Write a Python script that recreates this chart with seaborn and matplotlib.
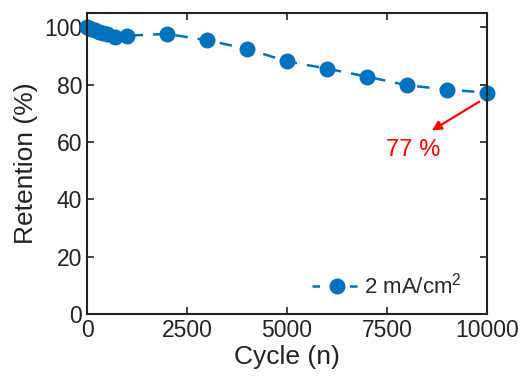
import matplotlib
matplotlib.use("Agg")
import matplotlib.pyplot as plt
import seaborn as sns
import pandas as pd

cycles = [0, 50, 100, 200, 300, 400, 500, 700, 1000, 2000, 3000, 4000, 5000, 6000, 7000, 8000, 9000, 10000]
retention = [100, 99.8, 99.5, 99.0, 98.5, 98.0, 97.5, 96.8, 97.1, 97.7, 95.5, 92.5, 88.1, 85.6, 82.8, 79.8, 78.3, 77.2]
series_label = "2 mA/cm$^2$"
xticks = [0, 2500, 5000, 7500, 10000]
yticks = [0, 20, 40, 60, 80, 100]

df = pd.DataFrame({"Cycle": cycles, "Retention": retention})

sns.set_theme(style="ticks")
plt.rcParams["font.family"] = ["Liberation Sans", "DejaVu Sans"]
plt.rcParams["mathtext.fontset"] = "custom"
plt.rcParams["mathtext.rm"] = "Liberation Sans"

fig = plt.figure(figsize=(5.24, 3.88), dpi=100)
ax = fig.add_axes([87/524, 1-314/388, 400/524, 301/388])

blue = "#0072BD"
sns.lineplot(data=df, x="Cycle", y="Retention", ax=ax, color=blue, linestyle="--",
             linewidth=1.8, marker="o", markersize=11.5, markeredgewidth=0,
             label=series_label, dashes=False)
for l in ax.lines:
    l.set_dashes([5, 4])
    l.set_clip_on(False)

ax.set_xlim(0, 10000)
ax.set_ylim(0, 105)
ax.set_xticks(xticks)
ax.set_yticks(yticks)
ax.set_xlabel("Cycle (n)", fontsize=19, color="#222222", labelpad=2)
ax.set_ylabel("Retention (%)", fontsize=19, color="#222222", labelpad=4)
ax.tick_params(direction="in", top=True, right=True, labelsize=16.5, colors="#222222",
               length=5, width=1.2)
for s in ax.spines.values():
    s.set_linewidth(1.5)
    s.set_color("#222222")
    s.set_visible(True)

ax.annotate("", xy=(8560, 63.5), xytext=(9870, 74.6),
            arrowprops=dict(arrowstyle="-|>", color="red", lw=1.6, mutation_scale=14))
ax.text(8150, 57.3, "77 %", color="red", fontsize=17, ha="center", va="center")

leg = ax.legend(loc="lower right", bbox_to_anchor=(0.975, 0.0), frameon=False, fontsize=16,
                handlelength=2.2, handletextpad=0.1, borderaxespad=0.3)
for h in leg.get_lines():
    h.set_dashes([3, 4.5])

fig.savefig("out.png", dpi=100)
